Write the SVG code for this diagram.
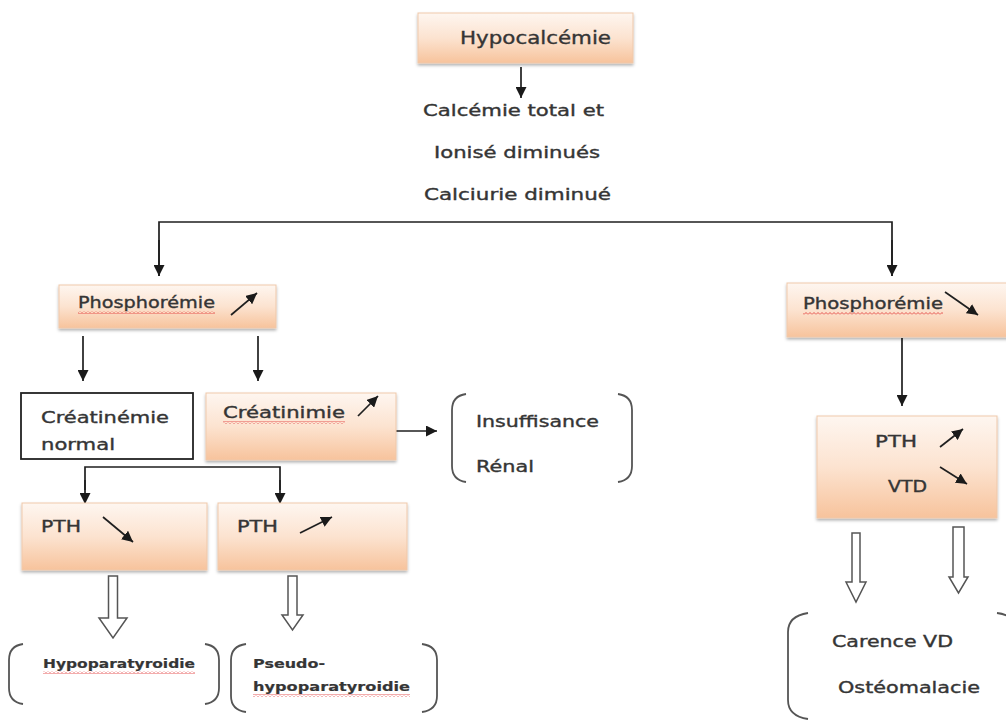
<svg xmlns="http://www.w3.org/2000/svg" width="1006" height="720" viewBox="0 0 1006 720">
<defs>
<linearGradient id="peach" x1="0" y1="0" x2="0" y2="1">
<stop offset="0" stop-color="#fef6f0"/>
<stop offset="0.5" stop-color="#fce3d0"/>
<stop offset="1" stop-color="#f7c39c"/>
</linearGradient>
<filter id="sh" x="-10%" y="-10%" width="120%" height="130%">
<feDropShadow dx="0" dy="2" stdDeviation="1.5" flood-color="#000" flood-opacity="0.3"/>
</filter>
<marker id="ah" markerUnits="userSpaceOnUse" markerWidth="11" markerHeight="11" viewBox="0 0 10 10" refX="10" refY="5" orient="auto">
<path d="M0,0 L10,5 L0,10 z" fill="#1a1a1a"/>
</marker>
<pattern id="wave" patternUnits="userSpaceOnUse" width="4" height="3">
<polyline points="0,2.5 2,0.5 4,2.5" fill="none" stroke="#e03030" stroke-width="0.8"/>
</pattern>
<style>
.box{fill:url(#peach);stroke:#efc9ab;stroke-width:1;filter:url(#sh)}
.plain{fill:#fff;stroke:#222;stroke-width:1.8}
.t{font-family:"DejaVu Sans",Verdana,sans-serif;fill:#353535;stroke:#353535;stroke-width:0.35;font-size:15px}
.b{font-weight:bold;font-size:13px;stroke-width:0.2}
.ln{stroke:#1f1f1f;stroke-width:1.7;fill:none}
.ar{stroke:#1f1f1f;stroke-width:1.7;fill:none;marker-end:url(#ah)}
.hol{fill:#fff;stroke:#555;stroke-width:1.5;stroke-linejoin:miter}
.br{fill:none;stroke:#555;stroke-width:1.8}
.sq{fill:url(#wave)}
</style>
</defs>
<rect width="1006" height="720" fill="#fff"/>

<g id="connectors">
<line class="ar" x1="521" y1="67" x2="521" y2="98"/>
<polyline class="ln" points="159,276 159,222 892,222 892,276"/>
<line class="ar" x1="159" y1="240" x2="159" y2="276"/>
<line class="ar" x1="892" y1="240" x2="892" y2="276"/>
<line class="ar" x1="83" y1="336" x2="83" y2="381"/>
<line class="ar" x1="258" y1="336" x2="258" y2="381"/>
<line class="ar" x1="394" y1="431" x2="437" y2="431"/>
<polyline class="ln" points="85,490 85,467 280,467 280,490"/>
<line class="ar" x1="85" y1="480" x2="85" y2="504"/>
<line class="ar" x1="280" y1="480" x2="280" y2="504"/>
<line class="ar" x1="902" y1="338" x2="902" y2="406"/>
<path class="hol" d="M108.5,576 H117.5 V618 H127 L113,638 L99,618 H108.5 Z"/>
<path class="hol" d="M288,576 H297 V615 H303 L292.5,630 L282,615 H288 Z"/>
<path class="hol" d="M852,533 H860 V582 H866 L856,602 L846,582 H852 Z"/>
<path class="hol" d="M953,527 H964 V577 H968 L958.5,593 L949,577 H953 Z"/>
</g>

<g id="hypocalcemie">
<rect class="box" x="418" y="13" width="215" height="50"/>
<text class="t" x="460" y="44" textLength="151" lengthAdjust="spacingAndGlyphs" style="font-size:17px">Hypocalcémie</text>
</g>

<g id="calcemie">
<text class="t" x="423" y="116" textLength="181" lengthAdjust="spacingAndGlyphs">Calcémie total et</text>
<text class="t" x="434" y="158" textLength="166" lengthAdjust="spacingAndGlyphs">Ionisé diminués</text>
<text class="t" x="424" y="200" textLength="187" lengthAdjust="spacingAndGlyphs">Calciurie diminué</text>
</g>

<g id="phospho-haut">
<rect class="box" x="59" y="285" width="217" height="43"/>
<text class="t" x="78" y="308" textLength="137" lengthAdjust="spacingAndGlyphs">Phosphorémie</text>
<rect class="sq" x="78" y="311" width="137" height="3"/>
<line class="ar" x1="231" y1="315" x2="257" y2="293"/>
</g>

<g id="phospho-bas">
<rect class="box" x="787" y="283" width="225" height="54"/>
<text class="t" x="803" y="309" textLength="140" lengthAdjust="spacingAndGlyphs">Phosphorémie</text>
<rect class="sq" x="803" y="312" width="140" height="3"/>
<line class="ar" x1="945" y1="292" x2="978" y2="315"/>
</g>

<g id="creatinemie-normal">
<rect class="plain" x="21" y="393" width="172" height="66"/>
<text class="t" x="41" y="423" textLength="128" lengthAdjust="spacingAndGlyphs">Créatinémie</text>
<text class="t" x="41" y="450" textLength="74" lengthAdjust="spacingAndGlyphs">normal</text>
</g>

<g id="creatinimie">
<rect class="box" x="206" y="393" width="190" height="67"/>
<text class="t" x="223" y="418" textLength="122" lengthAdjust="spacingAndGlyphs">Créatinimie</text>
<rect class="sq" x="223" y="421" width="122" height="3"/>
<line class="ar" x1="358" y1="416" x2="378" y2="396"/>
</g>

<g id="insuffisance">
<path class="br" d="M466,394 Q452,396 452,410 V466 Q452,480 466,482"/>
<path class="br" d="M618,394 Q632,396 632,410 V466 Q632,480 618,482"/>
<text class="t" x="476" y="427" textLength="123" lengthAdjust="spacingAndGlyphs">Insuffisance</text>
<text class="t" x="476" y="472" textLength="58" lengthAdjust="spacingAndGlyphs">Rénal</text>
</g>

<g id="pth-bas">
<rect class="box" x="22" y="503" width="185" height="67"/>
<text class="t" x="41" y="532" textLength="40" lengthAdjust="spacingAndGlyphs">PTH</text>
<line class="ar" x1="103" y1="517" x2="133" y2="542"/>
</g>

<g id="pth-haut">
<rect class="box" x="218" y="503" width="189" height="67"/>
<text class="t" x="237" y="532" textLength="41" lengthAdjust="spacingAndGlyphs">PTH</text>
<line class="ar" x1="300" y1="533" x2="332" y2="517"/>
</g>

<g id="pth-vtd">
<rect class="box" x="817" y="416" width="180" height="102"/>
<text class="t" x="875" y="447" textLength="42" lengthAdjust="spacingAndGlyphs">PTH</text>
<line class="ar" x1="940" y1="447" x2="963" y2="429"/>
<text class="t" x="888" y="492" textLength="39" lengthAdjust="spacingAndGlyphs">VTD</text>
<line class="ar" x1="940" y1="467" x2="967" y2="484"/>
</g>

<g id="hypoparathyroidie">
<path class="br" d="M23,644 Q9,646 9,660 V688 Q9,702 23,704"/>
<path class="br" d="M205,644 Q219,646 219,660 V688 Q219,702 205,704"/>
<text class="t b" x="43" y="668" textLength="152" lengthAdjust="spacingAndGlyphs">Hypoparatyroidie</text>
<rect class="sq" x="43" y="671" width="152" height="3"/>
</g>

<g id="pseudo-hypoparathyroidie">
<path class="br" d="M246,644 Q231,646 231,660 V696 Q231,710 246,712"/>
<path class="br" d="M422,644 Q437,646 437,660 V696 Q437,710 422,712"/>
<text class="t b" x="253" y="668" textLength="72" lengthAdjust="spacingAndGlyphs">Pseudo-</text>
<text class="t b" x="253" y="691" textLength="157" lengthAdjust="spacingAndGlyphs">hypoparatyroidie</text>
<rect class="sq" x="253" y="694" width="157" height="3"/>
</g>

<g id="carence-vd">
<path class="br" d="M808,613 Q788,616 788,632 V700 Q788,716 808,719"/>
<path class="br" d="M997,613 Q1006,614 1010,618"/>
<text class="t" x="832" y="647" textLength="121" lengthAdjust="spacingAndGlyphs">Carence VD</text>
<text class="t" x="838" y="693" textLength="142" lengthAdjust="spacingAndGlyphs">Ostéomalacie</text>
</g>
</svg>
